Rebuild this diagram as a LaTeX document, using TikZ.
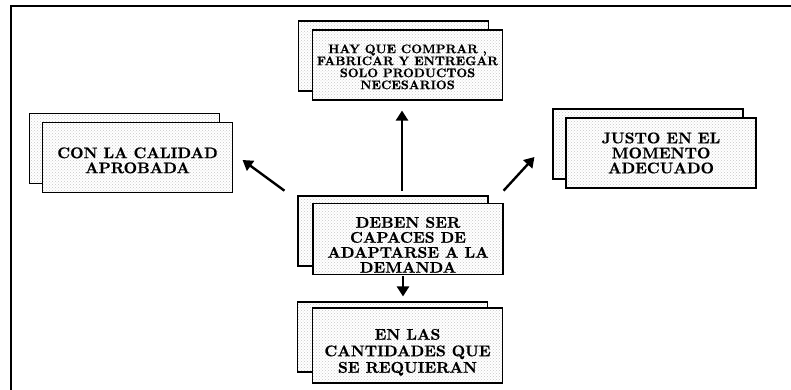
\documentclass[tikz,border=0pt]{standalone}
\usepackage{fontspec}
\usepackage{tikz}
\usetikzlibrary{arrows.meta,positioning,calc,patterns}
\newfontfamily\letra{lmroman10-bold.otf}[FakeBold=0.5]
\newcommand{\alto}[1]{\rule{0pt}{#1}}

\begin{document}
\begin{tikzpicture}[x=1pt, y=1pt,
    caja/.style={draw, line width=1.1pt, preaction={fill=white}, pattern=crosshatch dots, pattern color=black!22,
      minimum width=190pt, minimum height=70pt, inner sep=2pt, align=center,
      font=\letra\fontsize{15.5}{15}\selectfont},
    flecha/.style={line width=2.4pt, -{Triangle[length=10pt,width=12pt]}}]
  \useasboundingbox (0,0) rectangle (791,390);
  \draw[line width=1.5pt] (791,384) -- (11,384) -- (11,0);

  \node[caja] (arribafondo) at (393.5,334) {};
  \node[caja, font=\letra\fontsize{12.5}{12}\selectfont] (arriba) at ($(arribafondo)+(14,-9)$)
    {\alto{12.5pt}HAY QUE COMPRAR ,\\FABRICAR Y ENTREGAR\\SOLO PRODUCTOS\\NECESARIOS};
  \node[caja] (izqfondo) at (124.5,241.5) {};
  \node[caja] (izq) at ($(izqfondo)+(13,-9)$) {\alto{16.5pt}CON LA CALIDAD\\APROBADA};
  \node[caja] (derfondo) at (648,246) {};
  \node[caja] (der) at ($(derfondo)+(13,-9)$) {JUSTO EN EL\\MOMENTO\\ADECUADO};
  \node[caja] (centrofondo) at (393,159) {};
  \node[caja] (centro) at ($(centrofondo)+(15,-8)$) {\alto{22.5pt}DEBEN SER\\CAPACES DE\\ADAPTARSE A LA\\DEMANDA};
  \node[caja] (abajofondo) at (392.5,53) {};
  \node[caja, minimum height=75pt, font=\letra\fontsize{15.5}{16.5}\selectfont] (abajo) at ($(abajofondo)+(15,-8.5)$)
    {\alto{24.5pt}EN LAS\\CANTIDADES QUE\\SE REQUIERAN};

  \draw[flecha] ([shift={(-6,12)}]centro.north) -- ([shift={(-5.5,-10)}]arriba.south);
  \draw[flecha] ([shift={(-28,12)}]centro.north west) -- ([shift={(9.5,-2.5)}]izq.east);
  \draw[flecha] ([shift={(0,12)}]centro.north east) -- ([shift={(-31,-4)}]der.west);
  \draw[flecha] ([shift={(-5,-1)}]centro.south) -- ([shift={(-4.5,11)}]abajo.north);
\end{tikzpicture}
\end{document}
